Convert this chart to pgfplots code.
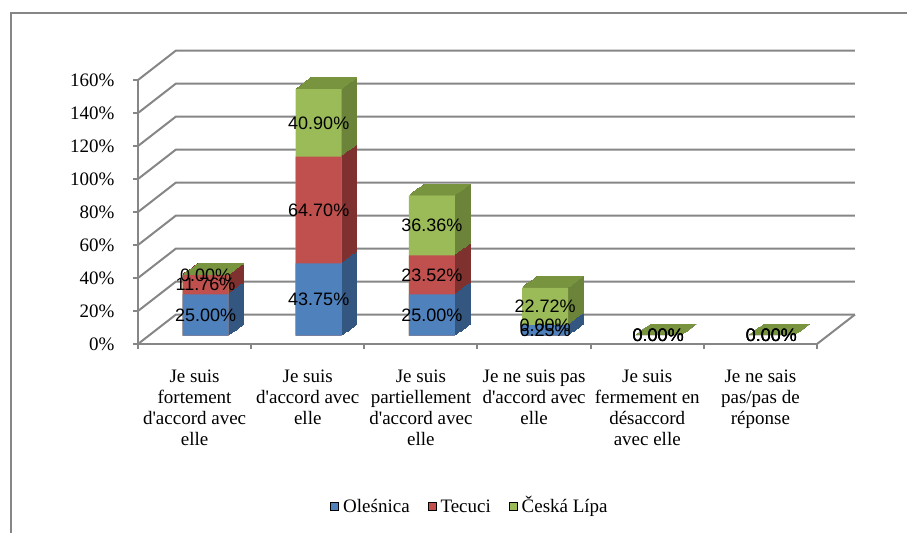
\documentclass[border=0pt]{standalone}
\usepackage{fontspec}
\setmainfont{Liberation Serif}
\newfontfamily\lsans{Liberation Sans}
\usepackage{pgfplots}
\pgfplotsset{compat=1.18}
\usepackage{pgfplotstable}

\definecolor{cB}{RGB}{79,129,189}
\definecolor{cR}{RGB}{192,80,77}
\definecolor{cG}{RGB}{155,187,89}
\definecolor{dB}{RGB}{52,87,130}
\definecolor{dR}{RGB}{126,49,47}
\definecolor{dG}{RGB}{108,132,58}
\definecolor{tG}{RGB}{120,148,62}
\definecolor{gridc}{RGB}{134,134,134}

\pgfplotstableread{
x a b c
0 25.00 11.76 0.00
1 43.75 64.70 40.90
2 25.00 23.52 36.36
3 6.25 0.00 22.72
4 0.00 0.00 0.00
5 0.00 0.00 0.00
}\data

\begin{document}
\begin{tikzpicture}
\path[use as bounding box] (0,0) rectangle (453.5pt,266pt);
\draw[gridc, line width=1pt] (5.5pt,-5pt) -- (5.5pt,259.5pt) -- (460pt,259.5pt);
\begin{axis}[
  at={(69pt,94pt)}, anchor=south west,
  scale only axis, width=339.5pt, height=132pt,
  xmin=-0.5, xmax=5.5, ymin=0, ymax=160,
  clip=false,
  /pgf/number format/assume math mode=true,
  axis x line*=bottom, axis y line*=left,
  axis line style={gridc, line width=1pt, -},
  ytick={0,20,...,160},
  yticklabel={\pgfmathprintnumber{\tick}\%},
  yticklabel style={font=\fontsize{9.5}{11}\selectfont, xshift=-5.8pt},
  xtick={0,...,5},
  xticklabels={{Je suis\\fortement\\d\textquotesingle accord avec\\elle},
               {Je suis\\d\textquotesingle accord avec\\elle},
               {Je suis\\partiellement\\d\textquotesingle accord avec\\elle},
               {Je ne suis pas\\d\textquotesingle accord avec\\elle},
               {Je suis\\fermement en\\désaccord\\avec elle},
               {Je ne sais\\pas/pas de\\réponse}},
  xticklabel style={font=\fontsize{9.5}{10.5}\selectfont, align=center, anchor=north, yshift=-7pt},
  minor xtick={-0.5,0.5,...,5.5},
  tick style={gridc, line width=1pt},
  major x tick style={draw=none},
  tick align=outside,
  major tick length=2.5pt, minor tick length=2.5pt,
  legend image code/.code={\fill[#1] (0pt,-2pt) rectangle (4pt,2pt);},
  legend style={at={(0.274,-0.617)}, anchor=west, draw=none, fill=none,
    font=\fontsize{9.5}{11}\selectfont, legend columns=3,
    nodes={text height=8.5pt, text depth=2.5pt},
    /tikz/every even column/.append style={column sep=7pt}},
  legend cell align=left,
]
\addlegendimage{fill=cB}\addlegendentry{Oleśnica}
\addlegendimage{fill=cR}\addlegendentry{Tecuci}
\addlegendimage{fill=cG}\addlegendentry{Česká Lípa}

% 3D frame: side wall and back wall grid
\pgfplotsinvokeforeach{0,20,...,160}{
  \draw[gridc, line width=1pt] (axis cs:-0.5,#1) -- ++(19pt,14.75pt) -- ([xshift=19pt,yshift=14.75pt]axis cs:5.5,#1);
}
\draw[gridc, line width=1pt] (axis cs:5.5,0) -- ++(19pt,14.75pt);

% extrusion (depth) of the bars
\pgfplotsinvokeforeach{12,11,...,1}{
  \addplot[ybar, bar width=23pt, bar shift=0pt, fill=dG, draw=dG, line width=0.6pt,
    xshift=5.5pt+#1*0.625pt, yshift=4.25pt+#1*0.4583pt, forget plot]
    table[x=x, y expr=\thisrow{a}+\thisrow{b}+\thisrow{c}]{\data};
  \addplot[ybar, bar width=23pt, bar shift=0pt, fill=dR, draw=dR, line width=0.6pt,
    xshift=5.5pt+#1*0.625pt, yshift=4.25pt+#1*0.4583pt, forget plot]
    table[x=x, y expr=\thisrow{a}+\thisrow{b}]{\data};
  \addplot[ybar, bar width=23pt, bar shift=0pt, fill=dB, draw=dB, line width=0.6pt,
    xshift=5.5pt+#1*0.625pt, yshift=4.25pt+#1*0.4583pt, forget plot]
    table[x=x, y=a]{\data};
}
% top faces
\pgfplotsinvokeforeach{12,11,...,1}{
  \addplot[only marks, mark=-, mark size=11.5pt, mark options={draw=tG, line width=0.7pt},
    xshift=5.5pt+#1*0.625pt, yshift=4.25pt+#1*0.4583pt, forget plot]
    table[x=x, y expr=\thisrow{a}+\thisrow{b}+\thisrow{c}]{\data};
}
% front faces
\addplot[ybar, bar width=23pt, bar shift=0pt, fill=cG, draw=none, xshift=5.5pt, yshift=4.25pt, forget plot]
  table[x=x, y expr=\thisrow{a}+\thisrow{b}+\thisrow{c}]{\data};
\addplot[ybar, bar width=23pt, bar shift=0pt, fill=cR, draw=none, xshift=5.5pt, yshift=4.25pt, forget plot]
  table[x=x, y expr=\thisrow{a}+\thisrow{b}]{\data};
\addplot[ybar, bar width=23pt, bar shift=0pt, fill=cB, draw=none, xshift=5.5pt, yshift=4.25pt, forget plot]
  table[x=x, y=a]{\data};

% data labels
\pgfplotsset{lbl/.style={draw=none, mark=none, forget plot, xshift=5.5pt, yshift=4.25pt,
  point meta=explicit,
  nodes near coords={\pgfmathprintnumber[fixed, fixed zerofill, precision=2]{\pgfplotspointmeta}\%},
  nodes near coords style={anchor=center, inner sep=0pt, font=\lsans\fontsize{9}{10}\selectfont, text=black}}}
\addplot[lbl] table[x=x, y expr=\thisrow{a}/2, meta=a]{\data};
\addplot[lbl] table[x=x, y expr=\thisrow{a}+\thisrow{b}/2, meta=b]{\data};
\addplot[lbl] table[x=x, y expr=\thisrow{a}+\thisrow{b}+\thisrow{c}/2, meta=c]{\data};
\end{axis}
\end{tikzpicture}
\end{document}
